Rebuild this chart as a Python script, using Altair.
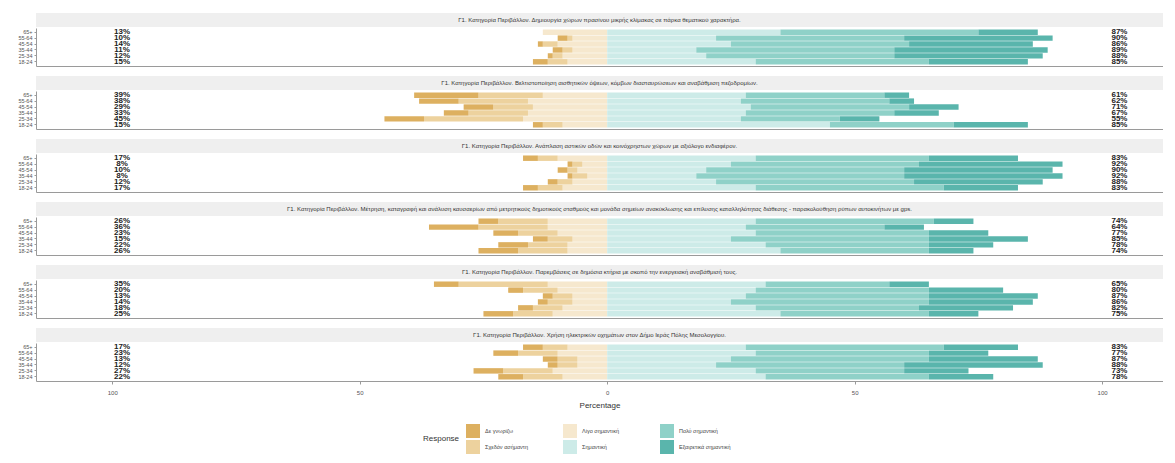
import altair as alt
import pandas as pd

ages = ["65+", "55-64", "45-54", "35-44", "25-34", "18-24"]
responses = ["Δε γνωρίζω", "Σχεδόν ασήμαντη", "Λίγο σημαντική",
             "Σημαντική", "Πολύ σημαντική", "Εξαιρετικά σημαντική"]
colors = ["#DDB060", "#EDD29E", "#F6E8CE", "#CDEBE8", "#8FD1C8", "#5AB5AC"]

titles = [
    "Γ1. Κατηγορία Περιβάλλον. Δημιουργία χώρων πρασίνου μικρής κλίμακας σε πάρκα θεματικού χαρακτήρα.",
    "Γ1. Κατηγορία Περιβάλλον. Βελτιστοποίηση αισθητικών όψεων, κόμβων διασταυρώσεων και αναβάθμιση πεζοδρομίων.",
    "Γ1. Κατηγορία Περιβάλλον. Ανάπλαση αστικών οδών και κοινόχρηστων χώρων με αξιόλογο ενδιαφέρον.",
    "Γ1. Κατηγορία Περιβάλλον. Μέτρηση, καταγραφή και ανάλυση καυσαερίων από μετρητικούς δημοτικούς σταθμούς και μονάδα σημείων ανακύκλωσης και επίλυσης καταλληλότητας διάθεσης - παρακολούθηση ρύπων αυτοκινήτων με gps.",
    "Γ1. Κατηγορία Περιβάλλον. Παρεμβάσεις σε δημόσια κτήρια με σκοπό την ενεργειακή αναβάθμισή τους.",
    "Γ1. Κατηγορία Περιβάλλον. Χρήση ηλεκτρικών οχημάτων στον Δήμο Ιεράς Πόλης Μεσολογγίου.",
]

# each row: [Δε γνωρίζω, Σχεδόν ασήμαντη, Λίγο σημαντική, Σημαντική, Πολύ σημαντική, Εξαιρετικά σημαντική]
q1 = [[0, 0, 13, 35, 40, 12],
      [2, 1, 7, 22, 38, 30],
      [1, 3, 10, 25, 36, 25],
      [2, 2, 7, 18, 40, 31],
      [1, 2, 9, 20, 38, 30],
      [3, 4, 8, 30, 35, 20]]
q2 = [[13, 13, 13, 28, 28, 5],
      [8, 14, 16, 27, 30, 5],
      [6, 8, 15, 29, 32, 10],
      [5, 12, 16, 28, 30, 9],
      [8, 20, 17, 27, 20, 8],
      [2, 4, 9, 45, 25, 15]]
q3 = [[3, 4, 10, 30, 35, 18],
      [1, 2, 5, 25, 38, 29],
      [2, 2, 6, 20, 40, 30],
      [1, 3, 4, 18, 42, 32],
      [2, 3, 7, 22, 40, 26],
      [3, 5, 9, 30, 38, 15]]
q4 = [[4, 10, 12, 30, 36, 8],
      [10, 14, 12, 28, 28, 8],
      [5, 8, 10, 30, 35, 12],
      [3, 5, 7, 25, 40, 20],
      [6, 8, 8, 32, 33, 13],
      [8, 10, 8, 35, 30, 9]]
q5 = [[5, 18, 12, 32, 25, 8],
      [3, 7, 10, 30, 35, 15],
      [2, 4, 7, 28, 37, 22],
      [2, 5, 7, 25, 40, 21],
      [3, 6, 9, 30, 33, 19],
      [6, 8, 11, 35, 30, 10]]
q6 = [[4, 5, 8, 28, 40, 15],
      [5, 8, 10, 30, 35, 12],
      [3, 4, 6, 25, 40, 22],
      [2, 4, 6, 22, 38, 28],
      [6, 10, 11, 30, 30, 13],
      [5, 8, 9, 32, 33, 13]]
questions = [q1, q2, q3, q4, q5, q6]

W = 1127
PLOT_H = 38
STRIP_H = 14
XDOM = [-115.4, 112.3]

order_idx = [0, 2, 4, 1, 3, 5]
color_scale = alt.Scale(domain=[responses[i] for i in order_idx],
                        range=[colors[i] for i in order_idx])
legend = alt.Legend(title="Response", orient="none", legendX=387, legendY=411,
                    direction="horizontal", columns=3, titleOrient="left",
                    titleAnchor="middle", titleBaseline="middle",
                    titleFontSize=8, titleFontWeight="normal", titleColor="#333",
                    labelFontSize=5.5, labelColor="#444", symbolType="square",
                    symbolSize=196, symbolStrokeWidth=0, symbolOpacity=1,
                    rowPadding=2, columnPadding=26, labelOffset=5, titlePadding=6,
                    gridAlign="all")


def bar_frame(q):
    rows = []
    for age, vals in zip(ages, q):
        edge = 0
        for k in (2, 1, 0):
            rows.append(dict(age=age, response=responses[k],
                             start=-edge - vals[k], end=-edge, value=vals[k]))
            edge += vals[k]
        edge = 0
        for k in (3, 4, 5):
            rows.append(dict(age=age, response=responses[k],
                             start=edge, end=edge + vals[k], value=vals[k]))
            edge += vals[k]
    df = pd.DataFrame(rows)
    return df[df["value"] > 0]


def label_frame(q):
    return pd.DataFrame({
        "age": ages,
        "lo": [f"{sum(v[:3])}%" for v in q],
        "hi": [f"{sum(v[3:])}%" for v in q],
    })


def panel(title, q, last):
    y_enc = alt.Y("age:N", sort=ages,
                  scale=alt.Scale(domain=ages, paddingInner=0.08, paddingOuter=0.25),
                  axis=alt.Axis(title=None, labelFontSize=5.5, labelColor="#555",
                                tickColor="#9A9A9A", tickSize=2, domainColor="#9A9A9A",
                                labelPadding=2))
    x_axis = alt.Axis(values=[-100, -50, 0, 50, 100], labelExpr="abs(datum.value)",
                      grid=False, labels=last, ticks=last, domainColor="#9A9A9A",
                      tickColor="#9A9A9A", tickSize=3, labelFontSize=6, labelColor="#555",
                      labelPadding=5, titleFontSize=8, titleFontWeight="normal",
                      titleColor="#333", titlePadding=6)
    xscale = alt.Scale(domain=XDOM, nice=False, zero=False)
    bars = alt.Chart(bar_frame(q)).mark_bar().encode(
        x=alt.X("start:Q", scale=xscale, axis=x_axis,
                title="Percentage" if last else None),
        x2="end:Q",
        y=y_enc,
        color=alt.Color("response:N", scale=color_scale, legend=legend),
    )
    labs = label_frame(q)
    left = alt.Chart(labs).mark_text(fontSize=8, color="#222", fontWeight="bold").encode(
        x=alt.datum(-98), y=y_enc, text="lo:N")
    right = alt.Chart(labs).mark_text(fontSize=8, color="#222", fontWeight="bold").encode(
        x=alt.datum(103.5), y=y_enc, text="hi:N")
    plot = alt.layer(bars, left, right).properties(
        width=W, height=PLOT_H, view=alt.ViewBackground(stroke=None))
    strip = alt.Chart(pd.DataFrame({"t": [title]})).mark_text(
        fontSize=6, color="#333").encode(
        text="t:N", x=alt.value(W / 2), y=alt.value(STRIP_H / 2)
    ).properties(width=W, height=STRIP_H,
                 view=alt.ViewBackground(fill="#EFEFEF", stroke=None))
    return alt.vconcat(strip, plot, spacing=1, bounds="flush")


panels = [panel(t, q, i == len(titles) - 1)
          for i, (t, q) in enumerate(zip(titles, questions))]

chart = alt.vconcat(*panels, spacing=10).properties(
    padding={"left": 9, "top": 5, "right": 0, "bottom": 0}
).configure(font="Liberation Sans")

chart.save("out.html", embed_options={"renderer": "svg", "actions": False})
